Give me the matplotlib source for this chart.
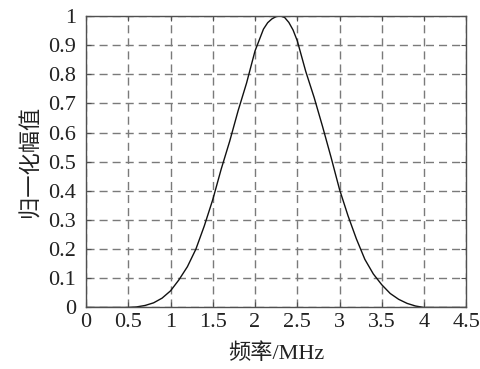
import matplotlib
matplotlib.use("Agg")
import matplotlib.pyplot as plt

# Normalised amplitude spectrum (frequency in MHz)
freq_mhz = [0.0, 0.5, 0.6, 0.7, 0.8, 0.9, 1.0, 1.1, 1.2, 1.3, 1.4, 1.5, 1.6,
            1.7, 1.8, 1.9, 2.0, 2.1, 2.15, 2.2, 2.25, 2.3, 2.35, 2.4, 2.45,
            2.5, 2.6, 2.7, 2.8, 2.9, 3.0, 3.1, 3.2, 3.3, 3.4, 3.5, 3.6, 3.7,
            3.8, 3.9, 4.0, 4.5]
amplitude = [0.0, 0.0, 0.002, 0.007, 0.016, 0.032, 0.057, 0.095, 0.14, 0.2,
             0.28, 0.37, 0.475, 0.57, 0.675, 0.77, 0.88, 0.955, 0.977, 0.99,
             0.998, 1.0, 0.995, 0.978, 0.952, 0.915, 0.81, 0.72, 0.62, 0.515,
             0.405, 0.315, 0.235, 0.165, 0.115, 0.078, 0.048, 0.028, 0.014,
             0.005, 0.0, 0.0]

x_ticks = [0, 0.5, 1, 1.5, 2, 2.5, 3, 3.5, 4, 4.5]
x_tick_labels = ["0", "0.5", "1", "1.5", "2", "2.5", "3", "3.5", "4", "4.5"]
y_ticks = [0, 0.1, 0.2, 0.3, 0.4, 0.5, 0.6, 0.7, 0.8, 0.9, 1]
y_tick_labels = ["0", "0.1", "0.2", "0.3", "0.4", "0.5", "0.6", "0.7", "0.8",
                 "0.9", "1"]

x_label = "频率/MHz"
y_label = "归一化幅值"

label_fonts = ["Liberation Serif", "Noto Sans CJK SC", "DejaVu Sans"]

fig = plt.figure(figsize=(4.81, 3.69), dpi=100)
ax = fig.add_axes([0.1788, 0.1667, 0.7906, 0.79])

ax.plot(freq_mhz, amplitude, color="#111111", lw=1.0)

ax.set_xlim(0, 4.5)
ax.set_ylim(0, 1)
ax.set_xticks(x_ticks)
ax.set_xticklabels(x_tick_labels)
ax.set_yticks(y_ticks)
ax.set_yticklabels(y_tick_labels)

ax.grid(True, color="#7a7a7a", lw=1.0, linestyle=(0, (5.8, 3.6)))
ax.set_axisbelow(True)

for sp in ax.spines.values():
    sp.set_color("#505050")
    sp.set_linewidth(1.0)

ax.tick_params(direction="in", length=3.5, width=0.8, color="#505050",
               top=True, right=True, labelsize=16, labelcolor="#222222")
ax.tick_params(axis="x", pad=4)
ax.tick_params(axis="y", pad=7)
for lab in ax.get_xticklabels() + ax.get_yticklabels():
    lab.set_family(label_fonts)

ax.set_xlabel(x_label, family=label_fonts, fontsize=16, labelpad=8,
              color="#222222", fontweight="light")
ax.set_ylabel(y_label, family=label_fonts, fontsize=16, labelpad=5,
              color="#222222", fontweight="light")

fig.savefig("out.png", dpi=100)
